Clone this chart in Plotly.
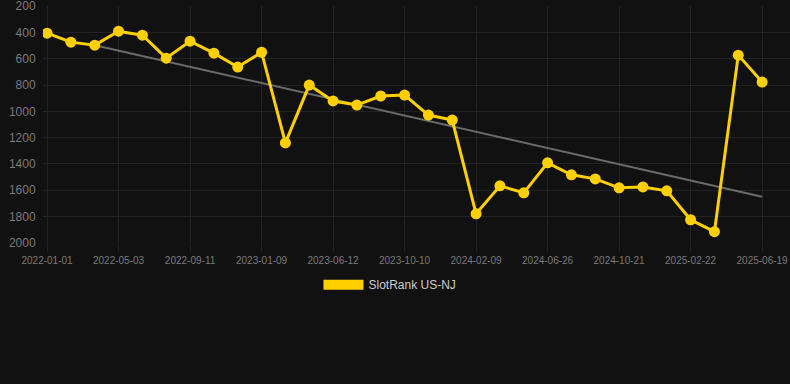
import plotly.graph_objects as go

dates = ["2022-01-01", "2022-02-11", "2022-03-23", "2022-05-03", "2022-06-15", "2022-07-28",
         "2022-09-11", "2022-10-21", "2022-11-30", "2023-01-09", "2023-02-28", "2023-04-20",
         "2023-06-12", "2023-07-22", "2023-08-31", "2023-10-10", "2023-11-20", "2023-12-30",
         "2024-02-09", "2024-03-25", "2024-05-10", "2024-06-26", "2024-08-04", "2024-09-12",
         "2024-10-21", "2024-12-01", "2025-01-11", "2025-02-22", "2025-04-01", "2025-05-10",
         "2025-06-19"]
rank = [405, 473, 496, 390, 420, 595, 466, 557, 663, 550, 1240, 800, 921, 952, 883, 876,
        1028, 1066, 1780, 1567, 1620, 1392, 1483, 1514, 1582, 1575, 1605, 1825, 1916, 572, 777]
trend_dates = ["2022-03-23", "2025-06-19"]
trend_vals = [496, 1650]
tick_labels = dates[::3]
y_ticks = [200, 400, 600, 800, 1000, 1200, 1400, 1600, 1800, 2000]

YELLOW = "#FFD000"
BG = "#111111"
GRID = "#222222"

fig = go.Figure()
fig.add_trace(go.Scatter(x=trend_dates, y=trend_vals, mode="lines",
                         line=dict(color="#6b6b6b", width=2), showlegend=False, hoverinfo="skip"))
fig.add_trace(go.Scatter(x=dates, y=rank, mode="lines+markers",
                         line=dict(color=YELLOW, width=3),
                         marker=dict(color=YELLOW, size=11),
                         showlegend=False, name="SlotRank US-NJ"))
fig.add_trace(go.Scatter(x=[None], y=[None], mode="lines", name="SlotRank US-NJ",
                         line=dict(color=YELLOW, width=10), showlegend=True))

fig.update_layout(
    width=790, height=384,
    margin=dict(l=43, r=0, t=6, b=141),
    paper_bgcolor=BG, plot_bgcolor=BG,
    font=dict(family="Arial, Liberation Sans, sans-serif", color="#7a7a7a"),
    showlegend=True,
    legend=dict(orientation="h", x=0.4645, xanchor="center", y=-0.115, yanchor="top",
                itemwidth=40,
                font=dict(size=12, color="#cccccc"), bgcolor="rgba(0,0,0,0)"),
)
fig.update_xaxes(type="category", categoryorder="array", categoryarray=dates,
                 range=[-0.17, 31.17],
                 tickmode="array", tickvals=tick_labels, ticktext=tick_labels,
                 tickfont=dict(size=10, color="#7a7a7a"),
                 showgrid=True, gridcolor=GRID, gridwidth=1,
                 ticks="outside", ticklen=8, tickcolor=GRID,
                 ticklabeloverflow="allow",
                 zeroline=False, showline=False)
fig.update_yaxes(range=[2002, 198], tickvals=y_ticks,
                 tickfont=dict(size=12, color="#7a7a7a"),
                 showgrid=True, gridcolor=GRID, gridwidth=1,
                 ticks="outside", ticklen=4, tickcolor=BG,
                 ticklabeloverflow="allow",
                 zeroline=False, showline=False)

fig.write_html("out.html", config={"displayModeBar": False},
               post_script="document.body.style.margin='0';document.body.style.background='#111111';")
